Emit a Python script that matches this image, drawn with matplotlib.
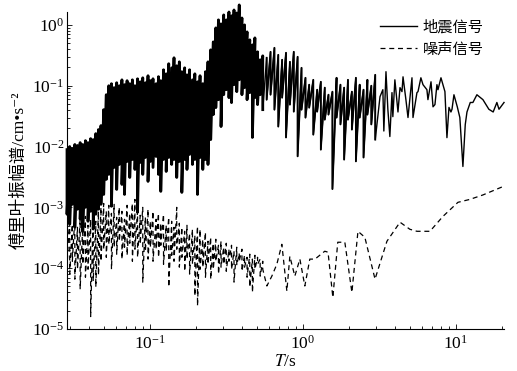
import numpy as np
import matplotlib
matplotlib.use("Agg")
import matplotlib.pyplot as plt

plt.rcParams["font.family"] = ["Liberation Serif", "Noto Sans CJK SC", "DejaVu Sans"]
plt.rcParams["mathtext.fontset"] = "stix"

# densely sampled short periods (s): each period carries a high and a low value
period_dense = [0.0288, 0.0300, 0.0312, 0.0324, 0.0337, 0.0351, 0.0365, 0.0380, 0.0395, 0.0411,
                0.0427, 0.0444, 0.0462, 0.0480, 0.0500, 0.0520, 0.0540, 0.0562, 0.0585, 0.0608,
                0.0632, 0.0658, 0.0684, 0.0711, 0.0740, 0.0770, 0.0800, 0.0832, 0.0866, 0.0900,
                0.0936, 0.0974, 0.101, 0.105, 0.110, 0.114, 0.118, 0.123, 0.128, 0.133,
                0.139, 0.144, 0.150, 0.156, 0.162, 0.169, 0.175, 0.182, 0.190, 0.197,
                0.205, 0.213, 0.222, 0.231, 0.240, 0.250, 0.260, 0.270, 0.281, 0.292,
                0.304, 0.316, 0.329, 0.342, 0.355, 0.370, 0.384, 0.400, 0.416, 0.432,
                0.450, 0.468, 0.486, 0.506, 0.526, 0.547]

# earthquake signal, upper / lower excursions (cm/s^2)
quake_hi = [0.0089, 0.0100, 0.0093, 0.0108, 0.0104, 0.0116, 0.0108, 0.0125, 0.0116, 0.0135,
            0.0130, 0.0163, 0.0190, 0.0221, 0.0404, 0.0712, 0.100, 0.108, 0.093, 0.112,
            0.100, 0.125, 0.104, 0.121, 0.108, 0.125, 0.100, 0.130, 0.116, 0.135,
            0.112, 0.146, 0.121, 0.130, 0.108, 0.141, 0.121, 0.183, 0.157, 0.230,
            0.197, 0.288, 0.213, 0.247, 0.170, 0.197, 0.151, 0.183, 0.125, 0.157,
            0.116, 0.146, 0.108, 0.170, 0.247, 0.389, 0.526, 0.893, 1.21, 1.04,
            1.46, 1.21, 1.63, 1.41, 1.76, 1.57, 2.13, 1.30, 1.00, 0.768,
            0.568, 0.470, 0.612, 0.361, 0.267, 0.310]
quake_lo = [7.7e-4, 5.3e-4, 1.12e-3, 4.7e-4, 9.3e-4, 6.4e-4, 4.0e-4, 1.0e-3, 5.9e-4, 8.6e-4,
            4.4e-4, 7.7e-4, 9.3e-4, 1.12e-3, 1.63e-3, 2.88e-3, 3.48e-3, 1.04e-3, 4.53e-3, 1.97e-3,
            5.07e-3, 2.38e-3, 1.63e-3, 5.68e-3, 3.1e-3, 6.12e-3, 4.2e-3, 8.3e-4, 5.47e-3, 3.48e-3,
            6.6e-3, 2.67e-3, 5.68e-3, 4.53e-3, 6.86e-3, 3.48e-3, 1.83e-3, 6.12e-3, 3.89e-3, 6.6e-3,
            5.07e-3, 6.12e-3, 3.1e-3, 5.68e-3, 1.76e-3, 6.12e-3, 4.2e-3, 7.4e-3, 5.07e-3, 6.12e-3,
            1.63e-3, 6.6e-3, 4.2e-3, 6.12e-3, 5.07e-3, 0.0130, 0.0335, 0.0436, 0.0589, 0.0213,
            0.0712, 0.0860, 0.0636, 0.0527, 0.104, 0.0798, 0.125, 0.0712, 0.093, 0.0589,
            0.0768, 0.0141, 0.0636, 0.0489, 0.0712, 0.0404]

# noise signal, upper / lower excursions
noise_hi = [5.9e-4, 7.7e-4, 5.26e-4, 6.86e-4, 4.7e-4, 6.36e-4, 5.47e-4, 7.1e-4, 5.07e-4, 6.36e-4,
            7.97e-4, 5.9e-4, 8.6e-4, 1.0e-3, 1.16e-3, 8.6e-4, 1.08e-3, 7.97e-4, 1.12e-3, 6.86e-4,
            1.0e-3, 8.6e-4, 6.36e-4, 1.08e-3, 7.97e-4, 1.16e-3, 1.35e-3, 8.6e-4, 7.4e-4, 1.0e-3,
            6.86e-4, 9.3e-4, 5.9e-4, 8.6e-4, 6.36e-4, 7.97e-4, 5.47e-4, 7.7e-4, 5.07e-4, 6.86e-4,
            5.9e-4, 4.7e-4, 1.0e-3, 5.47e-4, 4.7e-4, 4.04e-4, 5.07e-4, 3.75e-4, 4.36e-4, 3.47e-4,
            4.88e-4, 4.36e-4, 2.99e-4, 3.89e-4, 2.77e-4, 3.22e-4, 2.57e-4, 2.99e-4, 2.38e-4, 2.77e-4,
            2.21e-4, 2.57e-4, 2.05e-4, 2.38e-4, 1.90e-4, 2.21e-4, 1.76e-4, 2.05e-4, 1.63e-4, 1.51e-4,
            1.70e-4, 1.41e-4, 1.63e-4, 1.51e-4, 1.41e-4, 1.30e-4]
noise_lo = [1.04e-4, 8.0e-5, 1.30e-4, 6.6e-5, 9.6e-5, 4.5e-5, 1.16e-4, 7.1e-5, 9.6e-5, 1.6e-5,
            6.1e-5, 4.9e-5, 7.7e-5, 1.30e-4, 2.05e-4, 1.51e-4, 2.47e-4, 9.6e-5, 2.21e-4, 1.70e-4,
            2.77e-4, 1.41e-4, 2.21e-4, 1.63e-4, 2.57e-4, 1.30e-4, 2.05e-4, 1.51e-4, 2.47e-4, 5.9e-5,
            1.90e-4, 1.41e-4, 2.21e-4, 1.30e-4, 2.05e-4, 1.51e-4, 2.38e-4, 1.16e-4, 1.90e-4, 4.9e-5,
            1.63e-4, 1.30e-4, 2.05e-4, 1.04e-4, 1.51e-4, 8.9e-5, 1.41e-4, 8.0e-5, 1.16e-4, 3.5e-5,
            2.4e-5, 9.6e-5, 1.04e-4, 7.1e-5, 1.16e-4, 6.6e-5, 9.6e-5, 1.30e-4, 8.0e-5, 1.04e-4,
            1.16e-4, 8.9e-5, 1.30e-4, 9.6e-5, 5.9e-5, 1.12e-4, 1.30e-4, 8.9e-5, 1.04e-4, 7.1e-5,
            4.9e-5, 4.0e-5, 9.6e-5, 1.16e-4, 7.4e-5, 9.6e-5]

# intermediate periods of the earthquake signal
period_mid = [0.58, 0.615, 0.652, 0.691, 0.732, 0.776, 0.823, 0.872, 0.924, 0.98,
              1.04, 1.10, 1.17, 1.24, 1.31, 1.39, 1.47, 1.56, 1.66, 1.76,
              1.86, 1.97, 2.09, 2.22, 2.35, 2.49, 2.64, 2.80, 2.97]
quake_mid_hi = [0.288, 0.361, 0.420, 0.322, 0.267, 0.348, 0.247, 0.361, 0.299, 0.197,
                0.135, 0.104, 0.125, 0.086, 0.116, 0.093, 0.0712, 0.0798, 0.135, 0.104,
                0.093, 0.125, 0.0798, 0.135, 0.104, 0.086, 0.125, 0.100, 0.151]
quake_mid_lo = [0.0589, 0.0712, 0.0404, 0.0213, 0.0636, 0.0141, 0.0489, 0.0375, 0.0069, 0.0404,
                0.0299, 0.0436, 0.0157, 0.0375, 0.0089, 0.0277, 0.0335, 0.0020, 0.0299, 0.0231,
                0.0061, 0.0277, 0.0190, 0.0057, 0.0299, 0.0066, 0.0335, 0.0231, 0.0130]

# long periods, single values
period_quake_tail = [3.19, 3.33, 3.38, 3.49, 3.59, 3.70, 3.82, 3.87, 3.99, 4.18,
                     4.31, 4.44, 4.51, 4.71, 4.86, 5.16, 5.24, 5.56, 5.65, 5.90,
                     6.09, 6.46, 6.56, 6.87, 7.08, 7.29, 7.51, 7.63, 7.98, 8.22,
                     8.47, 8.73, 9.00, 9.27, 9.42, 9.70, 10.2, 10.6, 11.1, 11.5,
                     11.8, 12.4, 12.9, 13.7, 15.0, 16.4, 17.5, 18.5, 19.1, 20.6]
quake_tail = [0.066, 0.086, 0.018, 0.17, 0.041, 0.0146, 0.077, 0.031, 0.125, 0.037,
              0.093, 0.080, 0.14, 0.059, 0.030, 0.135, 0.030, 0.077, 0.080, 0.135,
              0.104, 0.086, 0.059, 0.116, 0.045, 0.049, 0.104, 0.086, 0.135, 0.104,
              0.080, 0.014, 0.044, 0.037, 0.041, 0.071, 0.045, 0.030, 0.0047, 0.023,
              0.037, 0.053, 0.053, 0.071, 0.059, 0.041, 0.037, 0.053, 0.041, 0.053]

period_noise_tail = [0.582, 0.627, 0.676, 0.729, 0.786, 0.822, 0.886, 0.956, 1.03, 1.11,
                     1.20, 1.39, 1.46, 1.57, 1.69, 1.88, 2.09, 2.29, 2.54, 2.96,
                     3.54, 4.31, 5.00, 5.56, 6.76, 8.22, 10.3, 12.3, 15.0, 20.3]
noise_tail = [5.1e-5, 7.4e-5, 1.16e-4, 2.47e-4, 4.2e-5, 1.57e-4, 7.4e-5, 1.41e-4, 5.1e-5, 1.41e-4,
              1.41e-4, 1.9e-4, 1.83e-4, 3.3e-5, 2.67e-4, 2.67e-4, 4.0e-5, 4.04e-4, 3.22e-4, 6.6e-5,
              2.77e-4, 5.7e-4, 4.36e-4, 4.04e-4, 4.04e-4, 7.1e-4, 1.21e-3, 1.35e-3, 1.6e-3, 2.2e-3]


def zigzag(t, hi, lo):
    # one vertical stroke per period: high value then low value
    x = np.repeat(np.asarray(t), 2)
    y = np.column_stack([hi, lo]).ravel()
    return x, y


xq1, yq1 = zigzag(period_dense, quake_hi, quake_lo)
xq2, yq2 = zigzag(period_mid, quake_mid_hi, quake_mid_lo)
x_quake = np.concatenate([xq1, xq2, period_quake_tail])
y_quake = np.concatenate([yq1, yq2, quake_tail])

xn1, yn1 = zigzag(period_dense, noise_hi, noise_lo)
x_noise = np.concatenate([xn1, period_noise_tail])
y_noise = np.concatenate([yn1, noise_tail])

fig = plt.figure(figsize=(5.17, 3.71), dpi=100)
ax = fig.add_axes([0.1296, 0.1132, 0.8453, 0.8545])

ax.plot(x_quake, y_quake, color="black", lw=1.0, clip_on=False, label="地震信号")
# the short-period part is so dense in the original that it prints almost solid
ax.plot(xq1, yq1, color="black", lw=2.0, clip_on=False)
ax.plot(xq2, yq2, color="black", lw=1.3)
ax.plot(x_noise, y_noise, color="black", lw=0.9, dashes=(4, 3), label="噪声信号")

ax.set_xscale("log")
ax.set_yscale("log")
ax.set_xlim(0.0288, 20.6)
ax.set_ylim(1e-5, 1.63)

for side in ["top", "right"]:
    ax.spines[side].set_visible(False)
ax.spines["left"].set_linewidth(0.8)
ax.spines["bottom"].set_linewidth(0.8)
ax.tick_params(which="both", direction="in", labelsize=12.5, width=0.6)
ax.tick_params(which="major", length=3.5)
ax.tick_params(which="minor", length=2)
ax.tick_params(axis="y", pad=2)
ax.tick_params(axis="x", pad=4)

ax.set_xlabel("$T$/s", fontsize=12.5, labelpad=1)
ax.set_ylabel("傅里叶振幅谱/cm•s⁻²", fontsize=12.5, labelpad=3)

ax.legend(loc="upper left", bbox_to_anchor=(0.735, 0.945), bbox_transform=fig.transFigure,
          frameon=False, fontsize=11, handlelength=2.4, handletextpad=0.4,
          borderpad=0, borderaxespad=0, labelspacing=0.5)

fig.savefig("out.png", dpi=100)
